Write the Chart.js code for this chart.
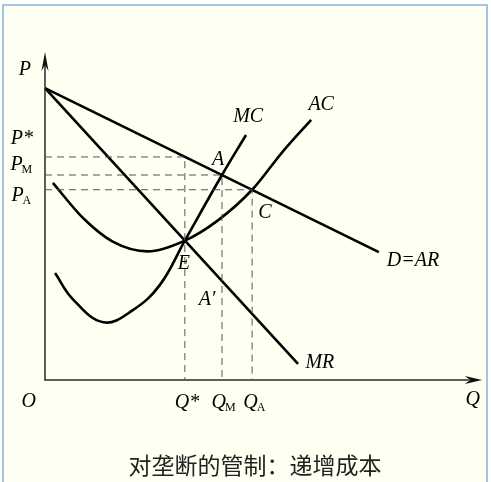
<!DOCTYPE html>
<html>
<head>
<meta charset="utf-8">
<script src="https://cdn.jsdelivr.net/npm/chart.js@4"></script>
<style>
  html, body { margin: 0; padding: 0; background: #fff; }
  canvas { display: block; }
</style>
</head>
<body>
<canvas id="grafico" width="491" height="482"></canvas>
<script>
// demanda (D = AR) e receita marginal (MR): retas
const dQ = [0, 76.4];
const dP = [89, 39];
const mrQ = [0, 57.9];
const mrP = [89, 4.9];

// custo marginal (MC)
const mcQ = [2.3, 6.4, 13.4, 20.1, 26.3, 32, 40.5, 46.0];
const mcP = [32.6, 24.6, 17.6, 21.3, 29.0, 42.5, 62.5, 74.7];

// custo medio (AC)
const acQ = [1.8, 8.7, 15.5, 23.5, 32, 39.5, 47.4, 54.5, 60.9];
const acP = [60.1, 49.4, 42.2, 39.2, 42.5, 48.6, 58.0, 69.8, 79.3];

// quantidades e precos marcados
const qStar = 32, qM = 40.5, qA = 47.4;
const pStar = 68, pM = 62.5, pA = 58;

const titulo = '对垄断的管制：递增成本';

function pts(xs, ys) {
    return xs.map((x, i) => ({ x: x, y: ys[i] }));
}

const rotulos = [
    { t: 'P', x: -4.6, y: 94.5 },
    { t: 'P*', x: -5.3, y: 73.5 },
    { t: 'P', s: 'M', x: -5.3, y: 65.5 },
    { t: 'P', s: 'A', x: -5.3, y: 56.1 },
    { t: 'A', x: 39.6, y: 67.1 },
    { t: 'MC', x: 46.5, y: 80.2 },
    { t: 'AC', x: 63.2, y: 83.8 },
    { t: 'C', x: 50.3, y: 50.9 },
    { t: 'E', x: 31.8, y: 35.4 },
    { t: 'A\u2032', x: 37.1, y: 24.4 },
    { t: 'MR', x: 62.9, y: 5.2 },
    { t: 'D=AR', x: 84.2, y: 36.3 },
    { t: 'O', x: -3.7, y: -6.7 },
    { t: 'Q*', x: 32.5, y: -7.0 },
    { t: 'Q', s: 'M', x: 41, y: -7.0 },
    { t: 'Q', s: 'A', x: 48, y: -7.0 },
    { t: 'Q', x: 97.9, y: -6.1 }
];

const tracejado = {
    borderColor: '#555',
    borderWidth: 1,
    borderDash: [7, 5],
    pointRadius: 0,
    showLine: true,
    fill: false,
    clip: false
};
const curva = {
    borderColor: '#000',
    borderWidth: 2.6,
    pointRadius: 0,
    showLine: true,
    fill: false,
    clip: false
};

const desenho = {
    id: 'desenho',
    beforeDraw(chart) {
        const c = chart.ctx;
        c.save();
        c.fillStyle = '#fff';
        c.fillRect(0, 0, chart.width, chart.height);
        c.fillStyle = '#fffff2';
        c.fillRect(3, 5, 484, 477);
        c.strokeStyle = '#a3c6e6';
        c.lineWidth = 2;
        c.beginPath();
        c.moveTo(3, 482);
        c.lineTo(3, 5);
        c.lineTo(487, 5);
        c.lineTo(487, 482);
        c.stroke();
        c.restore();
    },
    afterDatasetsDraw(chart) {
        const c = chart.ctx;
        const sx = chart.scales.x, sy = chart.scales.y;
        const x0 = sx.getPixelForValue(0), y0 = sy.getPixelForValue(0);
        const yTop = sy.getPixelForValue(100), xEnd = sx.getPixelForValue(100);
        c.save();
        c.fillStyle = '#111';
        // seta do eixo P
        c.beginPath();
        c.moveTo(x0, yTop);
        c.lineTo(x0 + 3.5, yTop + 19);
        c.lineTo(x0, yTop + 13);
        c.lineTo(x0 - 3.5, yTop + 19);
        c.closePath();
        c.fill();
        // seta do eixo Q
        c.beginPath();
        c.moveTo(xEnd, y0);
        c.lineTo(xEnd - 17, y0 - 4);
        c.lineTo(xEnd - 12, y0);
        c.lineTo(xEnd - 17, y0 + 4);
        c.closePath();
        c.fill();

        // rotulos
        c.fillStyle = '#000';
        c.textBaseline = 'middle';
        c.textAlign = 'left';
        rotulos.forEach(r => {
            const px = sx.getPixelForValue(r.x), py = sy.getPixelForValue(r.y);
            c.font = 'italic 20px "Liberation Serif"';
            const w1 = c.measureText(r.t).width;
            let w2 = 0;
            if (r.s) {
                c.font = '12px "Liberation Serif"';
                w2 = c.measureText(r.s).width;
            }
            const left = px - (w1 + w2) / 2;
            c.font = 'italic 20px "Liberation Serif"';
            c.fillText(r.t, left, py);
            if (r.s) {
                c.font = '12px "Liberation Serif"';
                c.fillText(r.s, left + w1 - 1, py + 5);
            }
        });

        // titulo
        c.fillStyle = '#222';
        c.textAlign = 'center';
        c.font = '23px "Noto Sans CJK SC"';
        c.fillText(titulo, 255, 465);
        c.restore();
    }
};

const ctx = document.getElementById('grafico').getContext('2d');

const grafico = new Chart(ctx, {
    type: 'scatter',
    data: {
        datasets: [
            Object.assign({ data: [{ x: 0, y: pStar }, { x: qStar, y: pStar }, { x: qStar, y: 0 }] }, tracejado),
            Object.assign({ data: [{ x: 0, y: pM }, { x: qM, y: pM }, { x: qM, y: 0 }] }, tracejado),
            Object.assign({ data: [{ x: 0, y: pA }, { x: qA, y: pA }, { x: qA, y: 0 }] }, tracejado),
            {
                data: [{ x: 0, y: 97 }, { x: 0, y: 0 }, { x: 97, y: 0 }],
                borderColor: '#2a2a2a',
                borderWidth: 1.5,
                pointRadius: 0,
                showLine: true,
                clip: false
            },
            Object.assign({ data: pts(dQ, dP) }, curva),
            Object.assign({ data: pts(mrQ, mrP) }, curva),
            Object.assign({ data: pts(mcQ, mcP), tension: 0.4 }, curva),
            Object.assign({ data: pts(acQ, acP), cubicInterpolationMode: 'monotone' }, curva)
        ]
    },
    options: {
        responsive: false,
        animation: false,
        layout: { padding: { left: 45, right: 9, top: 52, bottom: 102 } },
        scales: {
            x: { type: 'linear', min: 0, max: 100, display: false },
            y: { type: 'linear', min: 0, max: 100, display: false }
        },
        plugins: {
            legend: { display: false },
            tooltip: { enabled: false },
            title: { display: false }
        }
    },
    plugins: [desenho]
});
</script>
</body>
</html>
